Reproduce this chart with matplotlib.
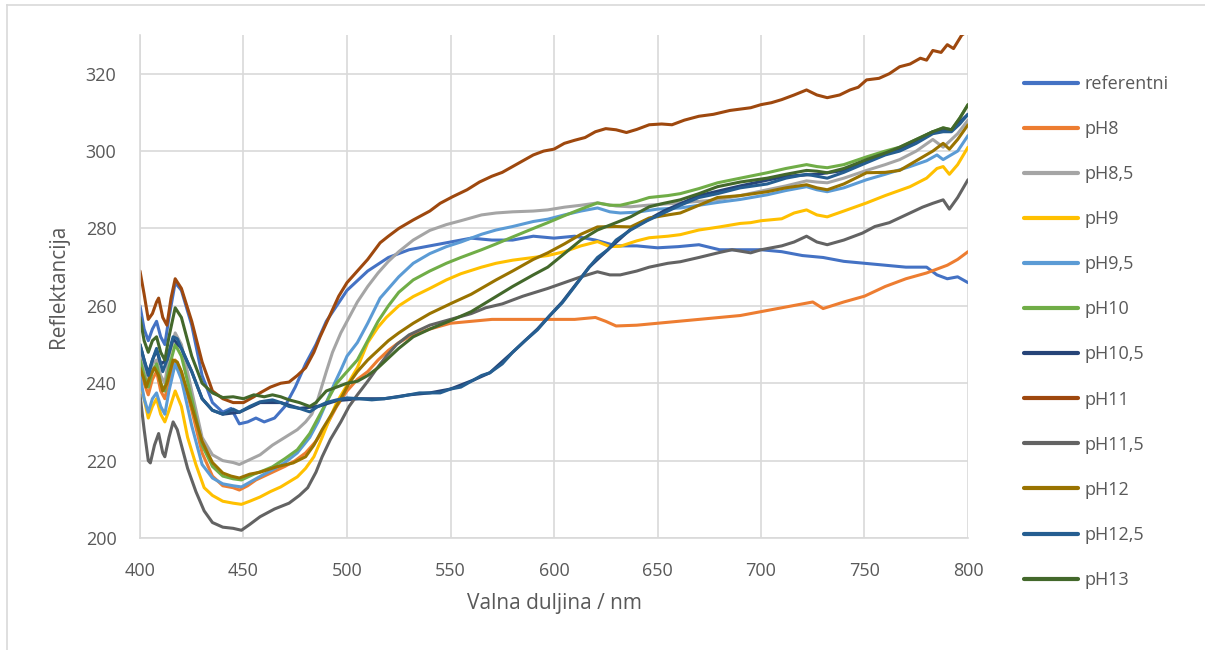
import matplotlib
matplotlib.use("Agg")
import matplotlib.pyplot as plt
from matplotlib.lines import Line2D

plt.rcParams['font.family'] = ['Open Sans', 'DejaVu Sans']

# ---------------- data ----------------
labels = ["referentni", "pH8", "pH8,5", "pH9", "pH9,5", "pH10", "pH10,5",
          "pH11", "pH11,5", "pH12", "pH12,5", "pH13"]
colors = ["#4472C4", "#ED7D31", "#A5A5A5", "#FFC000", "#5B9BD5", "#70AD47",
          "#264478", "#9E480E", "#636363", "#997300", "#255E91", "#43682B"]

ref_x = [400, 402, 404, 406, 408, 410, 412, 414, 417, 420, 425, 430, 435, 440, 444, 448, 452, 456, 460, 465,
         470, 475, 480, 485, 490, 495, 500, 510, 520, 530, 540, 550, 560, 570, 580, 590, 600, 610, 620, 630,
         640, 650, 660, 670, 680, 690, 700, 710, 720, 730, 740, 750, 760, 770, 780, 785, 790, 795, 800]
ref_y = [260, 254, 251, 254, 256, 252, 250, 257, 266, 264, 255, 242, 235, 232.5, 233.5, 229.5, 230, 231, 230, 231,
         234, 239, 245, 250, 256, 260, 264, 269, 272.5, 274.5, 275.5, 276.5, 277.5, 277, 277, 278, 277.5, 278, 277, 275.5,
         275.5, 275, 275.3, 275.8, 274.5, 274.5, 274.5, 274, 273, 272.5, 271.5, 271, 270.5, 270, 270, 268, 267, 267.5, 266]

ph8_x = [400, 402, 404, 406, 408, 410, 412, 414, 417, 420, 425, 430, 435, 440, 445, 448, 452, 456, 460, 464,
         470, 475, 480, 485, 490, 495, 500, 505, 510, 515, 520, 525, 530, 540, 550, 560, 570, 580, 590, 600,
         610, 620, 625, 630, 640, 650, 660, 670, 680, 690, 700, 710, 720, 725, 730, 740, 750, 760, 770, 780,
         790, 795, 800]
ph8_y = [244, 240, 237, 241, 243, 238, 236, 241, 246, 243, 233, 222, 216, 213.5, 213, 212.4, 213.5, 215, 216, 217,
         218.5, 220, 222, 225, 229, 234, 238, 241, 243, 246, 248.5, 250.5, 252, 254, 255.5, 256, 256.5, 256.5, 256.5, 256.5,
         256.5, 257, 256, 254.8, 255, 255.5, 256, 256.5, 257, 257.5, 258.5, 259.5, 260.5, 261, 259.3, 261, 262.5, 265, 267, 268.5,
         270.5, 272, 274]

ph85_x = [400, 402, 404, 406, 408, 410, 412, 414, 417, 420, 425, 430, 435, 440, 445, 448, 452, 458, 464, 470,
          476, 480, 483, 486, 490, 493, 497, 501, 505, 510, 515, 520, 525, 532, 540, 548, 555, 565, 572, 580,
          590, 597, 605, 613, 621, 630, 637, 645, 653, 661, 670, 679, 690, 703, 712, 722, 727, 732, 740, 751,
          760, 767, 775, 783, 788, 795, 800]
ph85_y = [248, 243, 240, 245, 246, 242, 240, 247, 253, 250, 238, 226, 221.5, 220, 219.5, 219, 220, 221.5, 224, 226,
          228, 230, 232, 236, 243, 248, 253, 257, 261, 265, 268.5, 271.5, 274, 277, 279.5, 281, 282, 283.5, 284, 284.3,
          284.5, 284.8, 285.5, 286, 286.6, 285.8, 285.6, 286, 286.3, 286.6, 287, 287.4, 288.5, 290, 291, 292.3, 292, 291.8, 293, 295,
          296.5, 297.8, 300, 303, 301, 304.5, 308]

ph9_x = [400, 402, 404, 406, 408, 410, 412, 414, 417, 420, 423, 427, 431, 435, 440, 445, 449, 453, 458, 463,
         468, 472, 476, 480, 484, 488, 491, 495, 500, 505, 510, 515, 519, 525, 532, 540, 548, 555, 565, 572,
         580, 590, 597, 605, 613, 621, 627, 632, 640, 646, 655, 661, 670, 680, 690, 695, 700, 710, 716, 722,
         727, 732, 740, 751, 760, 772, 780, 785, 788, 791, 795, 800]
ph9_y = [240, 236, 231, 234, 236, 232, 230, 233, 238, 234, 226, 219, 213, 211, 209.5, 209, 208.7, 209.5, 210.6, 212,
         213.2, 214.5, 215.8, 218, 221, 226, 230, 235, 239.5, 244, 250.5, 254.5, 257, 260, 262.4, 264.5, 266.7, 268.3, 270, 271,
         271.8, 272.5, 273, 274, 275.5, 276.6, 275.3, 275.4, 276.8, 277.6, 278, 278.4, 279.6, 280.4, 281.3, 281.5, 282, 282.5, 284, 284.8,
         283.5, 283, 284.5, 286.6, 288.5, 290.8, 293, 295.5, 296, 294, 296.5, 301]

ph95_x = [400, 402, 404, 406, 408, 410, 412, 414, 417, 420, 425, 430, 435, 440, 445, 449, 455, 460, 464, 470,
          476, 482, 486, 490, 494, 497, 500, 505, 510, 516, 525, 532, 540, 548, 555, 565, 572, 580, 590, 597,
          605, 613, 621, 627, 632, 640, 650, 661, 670, 680, 690, 703, 712, 722, 727, 732, 740, 751, 760, 772,
          780, 785, 788, 795, 800]
ph95_y = [242, 236, 232.5, 236, 237.5, 234, 232, 238, 245, 241, 229, 219, 215.5, 214, 213.5, 213.2, 215, 216.5, 217.6, 219.5,
          222, 226, 230, 235, 240, 243.4, 247, 250.5, 255.5, 262, 267.5, 271, 273.5, 275.3, 276.5, 278.5, 279.6, 280.5, 281.8, 282.4,
          283.5, 284.5, 285.3, 284.3, 284, 284.2, 285, 285.3, 286, 286.8, 287.5, 288.7, 289.8, 290.8, 290, 289.5, 290.5, 292.6, 294, 296,
          297.5, 299, 297.8, 300, 304]

ph10_x = [400, 402, 404, 406, 408, 410, 412, 414, 417, 420, 425, 430, 435, 440, 445, 449, 455, 460, 464, 470,
          476, 482, 488, 495, 500, 505, 510, 515, 520, 525, 532, 540, 548, 555, 565, 572, 580, 590, 597, 605,
          613, 621, 627, 632, 640, 646, 655, 661, 670, 679, 690, 703, 712, 722, 727, 732, 740, 751, 760, 767,
          775, 783, 788, 792, 796, 800]
ph10_y = [246, 242, 239, 243, 245, 240, 238, 244, 250, 247, 236, 224, 218.5, 216, 215.3, 215, 216.5, 217.5, 218.4, 220.5,
          222.8, 227, 233, 240, 243, 246, 251, 256, 260, 263.5, 266.7, 269, 271, 272.5, 274.5, 276, 277.8, 280, 281.5, 283.3,
          285, 286.6, 286, 286, 287, 288, 288.5, 289, 290.3, 291.8, 293, 294.4, 295.5, 296.5, 296, 295.7, 296.5, 298.5, 300, 301,
          303, 305, 306, 305.5, 308.5, 312]

ph105_x = [400, 402, 404, 406, 408, 410, 413, 416, 420, 425, 430, 435, 440, 448, 458, 468, 477, 486, 495, 506,
           518, 530, 540, 550, 561, 569, 580, 592, 604, 617, 626, 637, 653, 670, 690, 712, 727, 740, 751, 767,
           783, 792, 800]
ph105_y = [250, 246, 242.5, 246, 248.5, 245, 246, 251.5, 249, 243, 236, 233, 232, 232.5, 235, 235, 233.5, 234, 235.5, 236,
           236, 237, 237.5, 238.5, 240.8, 242.7, 248, 254, 261, 270, 274.5, 279.8, 284.5, 288.5, 291, 293.5, 294, 295, 297.5, 300.5,
           305, 305.5, 309.5]

ph11_x = [400, 402, 404, 406, 408, 409, 411, 413, 415, 417, 420, 425, 430, 435, 440, 445, 450, 455, 458, 463,
          468, 472, 476, 480, 484, 487, 490, 493, 496, 500, 505, 510, 516, 520, 525, 532, 540, 545, 551, 558,
          564, 570, 575, 580, 585, 590, 595, 600, 605, 610, 615, 620, 625, 630, 635, 640, 646, 652, 657, 663,
          670, 677, 685, 695, 700, 705, 710, 716, 722, 727, 732, 738, 743, 747, 751, 757, 762, 767, 772, 777,
          780, 783, 787, 790, 793, 797, 800]
ph11_y = [269, 263, 256.5, 258, 261, 262, 257, 255, 262, 267, 264.5, 256, 245.5, 238, 236, 235, 235, 236.5, 237.5, 239,
          240, 240.3, 242, 244, 248, 252, 255.5, 259, 262.5, 266, 269, 272, 276.3, 278, 280, 282.2, 284.5, 286.5, 288.2, 290,
          292, 293.5, 294.5, 296, 297.5, 299, 300, 300.5, 302, 302.8, 303.5, 305, 305.8, 305.5, 304.8, 305.6, 306.8, 307, 306.8, 308,
          309, 309.5, 310.5, 311.2, 312, 312.5, 313.3, 314.5, 315.8, 314.5, 313.8, 314.5, 315.8, 316.5, 318.4, 318.8, 320, 321.8, 322.5, 324,
          323.5, 326, 325.5, 327.5, 326.5, 330, 331]

ph115_x = [400, 402, 404, 405, 407, 409, 411, 412, 414, 416, 418, 420, 423, 427, 431, 435, 440, 445, 449, 453,
           458, 465, 472, 477, 481, 485, 488, 492, 497, 501, 505, 510, 514, 519, 524, 530, 540, 550, 560, 567,
           575, 585, 597, 605, 613, 621, 627, 632, 640, 646, 655, 661, 670, 680, 686, 695, 700, 710, 716, 722,
           727, 732, 740, 749, 755, 762, 772, 778, 783, 788, 791, 795, 800]
ph115_y = [237, 228, 220, 219.4, 224, 227, 222, 221, 226, 230, 228, 224, 218, 212, 207, 204, 202.8, 202.5, 202, 203.5,
           205.5, 207.5, 209, 211, 213, 217, 221, 225.5, 230, 234, 237, 240.5, 243.5, 247, 250, 252.5, 255, 256.5, 258, 259.5,
           260.5, 262.5, 264.5, 266, 267.5, 268.8, 268, 268, 269, 270, 271, 271.4, 272.5, 273.8, 274.5, 273.7, 274.5, 275.5, 276.5, 278,
           276.5, 275.8, 277, 278.8, 280.5, 281.5, 284, 285.5, 286.5, 287.4, 285, 288, 292.6]

ph12_x = [400, 402, 403, 405, 407, 409, 411, 413, 416, 418, 420, 425, 430, 435, 440, 444, 448, 453, 458, 466,
          474, 480, 484, 488, 492, 497, 501, 505, 510, 515, 520, 525, 532, 540, 551, 560, 572, 580, 590, 597,
          605, 613, 621, 630, 637, 646, 655, 661, 670, 679, 690, 703, 712, 722, 727, 732, 740, 751, 760, 767,
          775, 783, 788, 791, 795, 800]
ph12_y = [244, 241, 239, 242, 244, 242, 238, 240, 246, 245.5, 243, 234, 225, 219.5, 216.8, 216, 215.5, 216.5, 217, 218.4,
          219.4, 221, 224, 228, 231.5, 236, 240, 243, 246, 248.5, 251, 253, 255.5, 258, 260.8, 263, 266.7, 269, 272, 273.7,
          276, 278.5, 280.4, 280.5, 280.4, 282.7, 283.5, 284, 286, 288, 288.5, 289.5, 290.5, 291.3, 290.5, 290, 291.5, 294.4, 294.5, 295,
          297.5, 300, 302, 300.5, 303, 306.8]

ph125_x = [400, 402, 404, 406, 408, 410, 411, 413, 416, 418, 420, 425, 430, 435, 440, 445, 448, 453, 458, 464,
           468, 472, 477, 482, 486, 490, 495, 500, 506, 512, 518, 525, 530, 535, 540, 545, 550, 555, 561, 565,
           569, 575, 580, 586, 592, 598, 604, 610, 617, 621, 626, 630, 637, 645, 653, 661, 670, 679, 690, 703,
           712, 722, 727, 732, 740, 751, 760, 767, 775, 783, 788, 792, 796, 800]
ph125_y = [250, 246, 242, 246, 249, 245, 243, 246, 252, 251.5, 249, 243, 236, 233, 232, 233.3, 232.5, 234, 235.2, 235.7,
           235, 234, 233.5, 232.6, 234, 235, 235.7, 236.2, 236, 235.7, 236, 236.5, 237, 237.5, 237.5, 237.5, 238.5, 239, 240.8, 242,
           242.7, 245, 248, 251, 253.8, 257.5, 260.8, 265, 270, 272.5, 274.5, 277, 279.6, 282, 284, 286, 288, 289, 290.5, 291.5,
           293, 294, 293.5, 293, 294.5, 297, 299, 300, 302, 304.5, 305, 305, 307, 309.5]

ph13_x = [400, 402, 404, 406, 408, 410, 412, 414, 417, 420, 425, 430, 435, 440, 445, 450, 455, 460, 464, 468,
          472, 477, 482, 485, 490, 495, 500, 505, 510, 515, 520, 525, 532, 540, 551, 560, 572, 580, 590, 597,
          605, 613, 621, 630, 637, 646, 653, 661, 670, 679, 690, 703, 712, 722, 727, 732, 740, 751, 760, 767,
          775, 783, 788, 792, 796, 800]
ph13_y = [257, 251, 248, 251, 252, 248, 246, 252, 259.5, 257, 247, 240, 237.5, 236.3, 236.5, 236, 237, 236.5, 237, 236.5,
          235.7, 235, 234, 235, 238, 239, 240, 240.5, 242, 244, 246.5, 249, 252, 254, 256.4, 258.5, 262.4, 265, 268, 270,
          273.5, 277, 279.6, 281.5, 283, 285.6, 286.5, 287.4, 289, 290.8, 292, 293, 294, 295, 294.8, 294.4, 295.5, 297.8, 299.5, 301,
          303, 305, 306, 305.5, 308.5, 312]

series_x = [ref_x, ph8_x, ph85_x, ph9_x, ph95_x, ph10_x, ph105_x, ph11_x, ph115_x, ph12_x, ph125_x, ph13_x]
series_y = [ref_y, ph8_y, ph85_y, ph9_y, ph95_y, ph10_y, ph105_y, ph11_y, ph115_y, ph12_y, ph125_y, ph13_y]

x_ticks = [400, 450, 500, 550, 600, 650, 700, 750, 800]
y_ticks = [200, 220, 240, 260, 280, 300, 320]

# ---------------- figure ----------------
W, H = 1205, 650
fig = plt.figure(figsize=(W / 100, H / 100), dpi=100)
ax = fig.add_axes([140 / W, 1 - 538 / H, (968 - 140) / W, (538 - 35) / H])

text_col = "#595959"
grid_col = "#D9D9D9"

for xs, ys, c, lab in zip(series_x, series_y, colors, labels):
    ax.plot(xs, ys, color=c, lw=2.2, label=lab, solid_joinstyle='round', solid_capstyle='round')

ax.set_xlim(400, 800)
ax.set_ylim(200, 330)
ax.set_xticks(x_ticks)
ax.set_yticks(y_ticks)
ax.grid(True, color=grid_col, lw=1.2)
ax.set_axisbelow(True)
for s in ["top", "right"]:
    ax.spines[s].set_visible(False)
ax.spines["left"].set_color(grid_col)
ax.spines["bottom"].set_color(grid_col)
ax.spines["left"].set_linewidth(1.2)
ax.spines["bottom"].set_linewidth(1.2)
ax.tick_params(axis="both", length=0, labelsize=13, labelcolor=text_col)
ax.tick_params(axis="y", pad=17)
ax.tick_params(axis="x", pad=17)

ax.set_xlabel("Valna duljina / nm", fontsize=15, color=text_col, labelpad=10)
ax.set_ylabel("Reflektancija", fontsize=15, color=text_col, labelpad=12)

handles = [Line2D([0], [0], color=c, lw=3.0, solid_capstyle='round') for c in colors]
fig.legend(handles, labels, loc="upper left", bbox_to_anchor=(1024 / W, 1 - 75 / H),
           frameon=False, fontsize=13, labelcolor=text_col, handlelength=3.0,
           handletextpad=0.35, labelspacing=1.5, borderpad=0, borderaxespad=0)

# outer chart border (left and top visible)
fig.add_artist(Line2D([7 / W, 7 / W], [0, 1 - 5 / H], color=grid_col, lw=1.2, transform=fig.transFigure))
fig.add_artist(Line2D([7 / W, 1], [1 - 5 / H, 1 - 5 / H], color=grid_col, lw=1.2, transform=fig.transFigure))

fig.savefig("out.png", dpi=100)
